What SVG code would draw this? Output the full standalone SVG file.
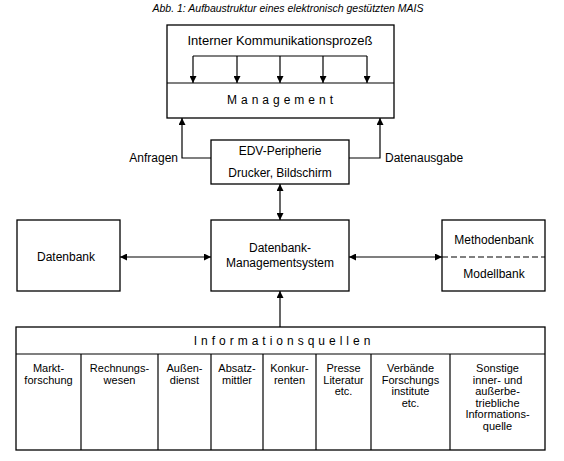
<svg xmlns="http://www.w3.org/2000/svg" width="564" height="461" viewBox="0 0 564 461">
<style>
.box{fill:#fff;stroke:#000;stroke-width:1.3}
.ln{fill:none;stroke:#000;stroke-width:1.2}
.t{font-family:"Liberation Sans",Arial,sans-serif;font-size:12px;fill:#000;text-anchor:middle}
.c{font-size:11px}
.sp{letter-spacing:4px}
.title{font-family:"Liberation Sans",Arial,sans-serif;font-size:10.5px;font-style:italic;fill:#000;text-anchor:middle}
</style>
<defs>
<marker id="ah" viewBox="0 0 10 10" refX="10" refY="5" markerWidth="7" markerHeight="7" markerUnits="userSpaceOnUse" orient="auto-start-reverse">
<path d="M0,0 L10,5 L0,10 z" fill="#000"/>
</marker>
</defs>
<rect width="564" height="461" fill="#fff"/>
<text class="title" x="288" y="12">Abb. 1: Aufbaustruktur eines elektronisch gestützten MAIS</text>

<g id="management">
<rect class="box" x="167" y="25" width="227" height="93"/>
<line class="ln" x1="167" y1="83" x2="394" y2="83"/>
<text class="t" x="280" y="45" style="font-size:13px">Interner Kommunikationsprozeß</text>
<text class="t sp" x="282" y="104">Management</text>
</g>

<g id="edv">
<rect class="box" x="211" y="140" width="138" height="44"/>
<text class="t" x="280" y="155">EDV-Peripherie</text>
<text class="t" x="280" y="177">Drucker, Bildschirm</text>
</g>

<g id="datenbank">
<rect class="box" x="17" y="220" width="103" height="71"/>
<text class="t" x="66" y="261">Datenbank</text>
</g>

<g id="dbms">
<rect class="box" x="211" y="220" width="138" height="71"/>
<text class="t" x="280" y="252">Datenbank-</text>
<text class="t" x="280" y="267">Managementsystem</text>
</g>

<g id="methodenbank">
<rect class="box" x="442" y="220" width="103" height="71"/>
<line class="ln" x1="442" y1="257" x2="545" y2="257" stroke-dasharray="6,3"/>
<text class="t" x="494" y="244">Methodenbank</text>
<text class="t" x="494" y="278">Modellbank</text>
</g>

<g id="informationsquellen">
<rect class="box" x="16" y="327" width="529" height="123"/>
<line class="ln" x1="16" y1="354" x2="545" y2="354"/>
<text class="t sp" x="284" y="345">Informationsquellen</text>
<g class="ln">
<line x1="81" y1="354" x2="81" y2="450"/>
<line x1="158" y1="354" x2="158" y2="450"/>
<line x1="211" y1="354" x2="211" y2="450"/>
<line x1="263" y1="354" x2="263" y2="450"/>
<line x1="316" y1="354" x2="316" y2="450"/>
<line x1="371" y1="354" x2="371" y2="450"/>
<line x1="450" y1="354" x2="450" y2="450"/>
</g>
<text class="t c" x="48.5" y="372">Markt-<tspan x="48.5" dy="11.5">forschung</tspan></text>
<text class="t c" x="119.5" y="372">Rechnungs-<tspan x="119.5" dy="11.5">wesen</tspan></text>
<text class="t c" x="184.5" y="372">Außen-<tspan x="184.5" dy="11.5">dienst</tspan></text>
<text class="t c" x="237" y="372">Absatz-<tspan x="237" dy="11.5">mittler</tspan></text>
<text class="t c" x="289.5" y="372">Konkur-<tspan x="289.5" dy="11.5">renten</tspan></text>
<text class="t c" x="343.5" y="372">Presse<tspan x="343.5" dy="11.5">Literatur</tspan><tspan x="343.5" dy="11.5">etc.</tspan></text>
<text class="t c" x="410.5" y="372">Verbände<tspan x="410.5" dy="11.5">Forschungs</tspan><tspan x="410.5" dy="11.5">institute</tspan><tspan x="410.5" dy="11.5">etc.</tspan></text>
<text class="t c" x="497.5" y="372">Sonstige<tspan x="497.5" dy="11.5">inner- und</tspan><tspan x="497.5" dy="11.5">außerbe-</tspan><tspan x="497.5" dy="11.5">triebliche</tspan><tspan x="497.5" dy="11.5">Informations-</tspan><tspan x="497.5" dy="11.5">quelle</tspan></text>
</g>

<g id="connectors" class="ln">
<line x1="193" y1="56" x2="367" y2="56"/>
<line x1="193" y1="56" x2="193" y2="83" marker-end="url(#ah)"/>
<line x1="237" y1="56" x2="237" y2="83" marker-end="url(#ah)"/>
<line x1="280" y1="56" x2="280" y2="83" marker-end="url(#ah)"/>
<line x1="323" y1="56" x2="323" y2="83" marker-end="url(#ah)"/>
<line x1="367" y1="56" x2="367" y2="83" marker-end="url(#ah)"/>
<polyline points="211,158 182,158 182,118" marker-end="url(#ah)"/>
<polyline points="349,158 380,158 380,118" marker-end="url(#ah)"/>
<line x1="280" y1="184" x2="280" y2="220" marker-start="url(#ah)" marker-end="url(#ah)"/>
<line x1="120" y1="257" x2="211" y2="257" marker-start="url(#ah)" marker-end="url(#ah)"/>
<line x1="349" y1="257" x2="442" y2="257" marker-start="url(#ah)" marker-end="url(#ah)"/>
<line x1="280" y1="327" x2="280" y2="291" marker-end="url(#ah)"/>
</g>
<g id="labels">
<text class="t" x="178" y="162" style="text-anchor:end">Anfragen</text>
<text class="t" x="385" y="162" style="text-anchor:start">Datenausgabe</text>
</g>
</svg>
